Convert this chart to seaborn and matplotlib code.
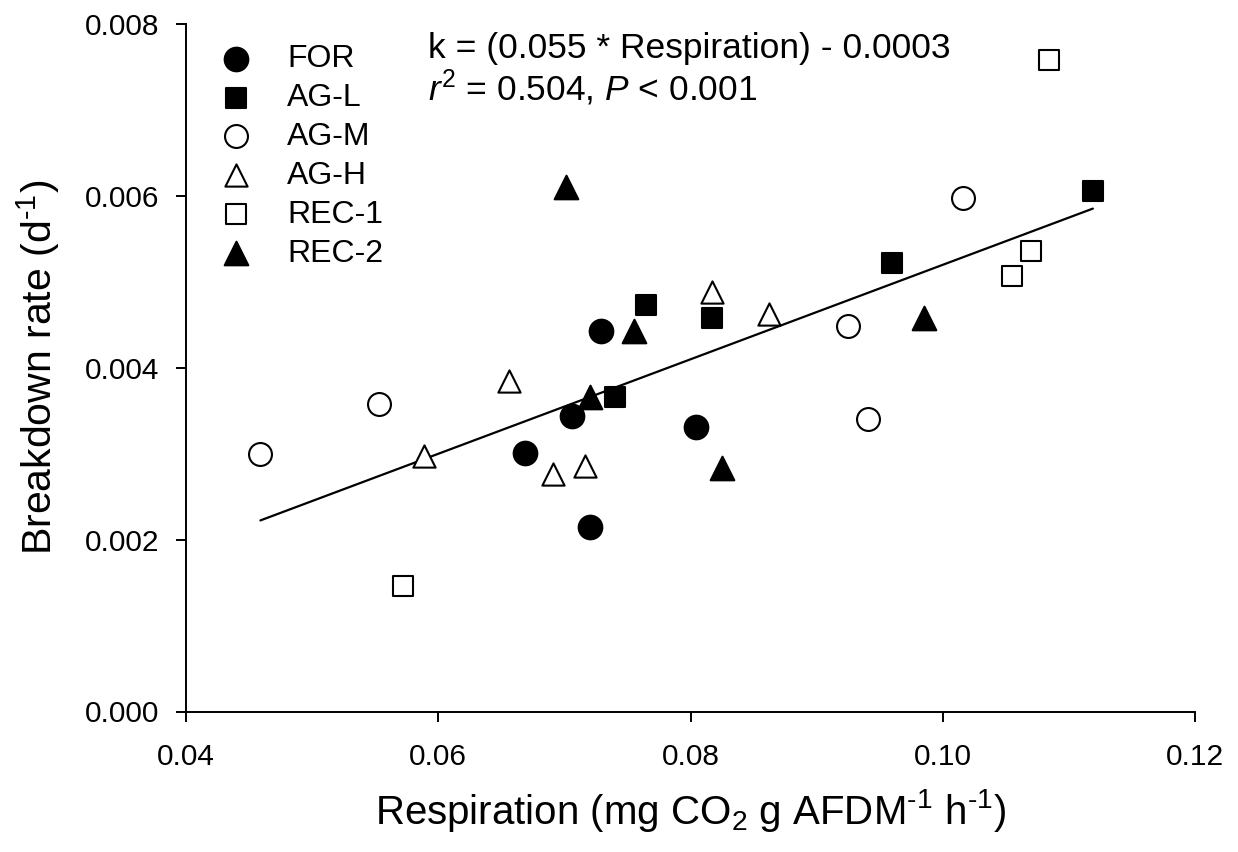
import numpy as np
import pandas as pd
import matplotlib
matplotlib.use("Agg")
import matplotlib.pyplot as plt
import seaborn as sns

# ---- data ----
groups = ["FOR", "AG-L", "AG-M", "AG-H", "REC-1", "REC-2"]
for_x = [0.0669, 0.0706, 0.0729, 0.0720, 0.0804]
for_y = [0.00301, 0.00344, 0.00443, 0.00215, 0.00331]
agl_x = [0.0765, 0.0817, 0.0740, 0.0960, 0.1119]
agl_y = [0.00473, 0.00458, 0.00366, 0.00522, 0.00606]
agm_x = [0.0459, 0.0553, 0.0925, 0.0941, 0.1016]
agm_y = [0.00300, 0.00358, 0.00449, 0.00341, 0.00598]
agh_x = [0.0589, 0.0656, 0.0691, 0.0716, 0.0817, 0.0862]
agh_y = [0.00297, 0.00385, 0.00277, 0.00286, 0.00488, 0.00463]
rec1_x = [0.0572, 0.1055, 0.1070, 0.1084]
rec1_y = [0.00146, 0.00507, 0.00536, 0.00758]
rec2_x = [0.0701, 0.0720, 0.0755, 0.0825, 0.0985]
rec2_y = [0.00611, 0.00366, 0.00443, 0.00283, 0.00458]

slope = 0.055
intercept = -0.0003

x_ticks = [0.04, 0.06, 0.08, 0.10, 0.12]
y_ticks = [0.000, 0.002, 0.004, 0.006, 0.008]

xs = [for_x, agl_x, agm_x, agh_x, rec1_x, rec2_x]
ys = [for_y, agl_y, agm_y, agh_y, rec1_y, rec2_y]
df = pd.concat([pd.DataFrame({"resp": x, "k": y, "group": g})
                for g, x, y in zip(groups, xs, ys)], ignore_index=True)

# ---- style ----
sns.set_style("ticks", rc={"text.color": "black", "axes.labelcolor": "black",
                           "xtick.color": "black", "ytick.color": "black",
                           "axes.edgecolor": "black"})
plt.rcParams["font.family"] = ["Liberation Sans", "DejaVu Sans"]
plt.rcParams["mathtext.fontset"] = "custom"
plt.rcParams["mathtext.rm"] = "Liberation Sans"
plt.rcParams["mathtext.it"] = "Liberation Sans:italic"
plt.rcParams["mathtext.bf"] = "Liberation Sans:bold"

fig = plt.figure(figsize=(12.38, 8.52), dpi=100)
ax = fig.add_axes([186 / 1238, 1 - 711.5 / 852, (1195 - 186) / 1238, (711.5 - 24.3) / 852])

styles = {
    "FOR":   dict(marker="o", s=17 ** 2, facecolor="black"),
    "AG-L":  dict(marker="s", s=15 ** 2, facecolor="black"),
    "AG-M":  dict(marker="o", s=16.5 ** 2, facecolor="white"),
    "AG-H":  dict(marker="^", s=16 ** 2, facecolor="white"),
    "REC-1": dict(marker="s", s=14.5 ** 2, facecolor="white"),
    "REC-2": dict(marker="^", s=17 ** 2, facecolor="black"),
}

# regression line
x_line = np.array([df["resp"].min(), df["resp"].max()])
y_line = slope * x_line + intercept
sns.lineplot(x=x_line, y=y_line, color="black", linewidth=1.6, ax=ax, zorder=2)

for g in groups:
    sub = df[df["group"] == g]
    st = styles[g]
    sns.scatterplot(data=sub, x="resp", y="k", marker=st["marker"], s=st["s"],
                    facecolor=st["facecolor"], edgecolor="black", linewidth=1.5,
                    ax=ax, label=g, zorder=3)

ax.set_xlim(0.04, 0.12)
ax.set_ylim(0.0, 0.008)
ax.set_xticks(x_ticks)
ax.set_yticks(y_ticks)
ax.set_xticklabels([f"{v:.2f}" for v in x_ticks])
ax.set_yticklabels([f"{v:.3f}" for v in y_ticks])
ax.tick_params(axis="both", direction="out", length=7.5, width=1.4,
               labelsize=21.5, pad=12, color="black", labelcolor="black")
ax.tick_params(axis="x", pad=15)
for side in ["left", "bottom"]:
    ax.spines[side].set_linewidth(1.4)
    ax.spines[side].set_color("black")
sns.despine(ax=ax)

ax.set_xlabel(r"Respiration (mg CO$_2$ g AFDM$^{\text{-1}}$ h$^{\text{-1}}$)",
              fontsize=29, labelpad=12)
ax.set_ylabel(r"Breakdown rate (d$^{\text{-1}}$)", fontsize=29.5, labelpad=16)

leg = ax.legend(loc="upper left", bbox_to_anchor=(0.018, 0.99), frameon=False,
                fontsize=23, labelspacing=0.28, handletextpad=1.0,
                borderaxespad=0.0, handlelength=1.2)

ax.text(0.240, 0.989, "k = (0.055 * Respiration) - 0.0003", transform=ax.transAxes,
        fontsize=25.5, va="top", ha="left")
ax.text(0.240, 0.937, r"$r^2$ = 0.504, $P$ < 0.001", transform=ax.transAxes,
        fontsize=25.5, va="top", ha="left")

fig.savefig("out.png", dpi=100)
